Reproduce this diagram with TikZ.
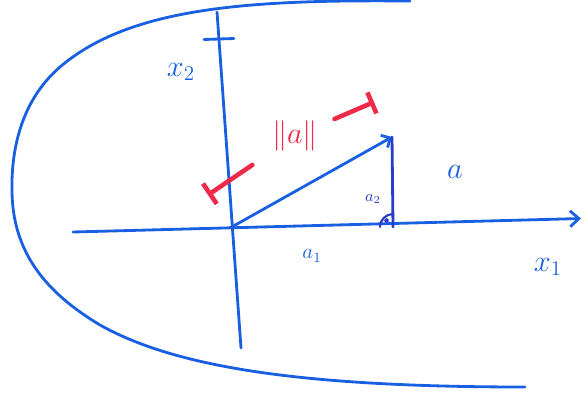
\documentclass[tikz,border=0pt]{standalone}
\usepackage{amsmath,amssymb}
\usepackage{xcolor}
\usetikzlibrary{arrows.meta}
\definecolor{penblue}{RGB}{25,95,225}
\definecolor{pendark}{RGB}{40,60,200}
\definecolor{penred}{RGB}{238,42,72}
\tikzset{
    pen/.style={penblue,line width=1.6pt,line cap=round},
    dimline/.style={penred,line width=2.6pt,line cap=round},
    lbl/.style={penblue,inner sep=1pt}
}
\begin{document}
\begin{tikzpicture}[line width=1.6pt]
\useasboundingbox (0,0) rectangle (11.7,7.84);
% coordinates
\coordinate (O) at (4.6,3.28);
\coordinate (xS) at (1.46,3.2);
\coordinate (xE) at (11.62,3.47);
\coordinate (yS) at (4.82,0.88);
\coordinate (yE) at (4.34,7.6);
\coordinate (yTL) at (4.08,7.05);
\coordinate (yTR) at (4.68,7.07);
\coordinate (Atip) at (7.84,5.1);
\coordinate (Afoot) at (7.86,3.3);
\coordinate (dimL) at (4.16,3.94);
\coordinate (dimR) at (7.48,5.8);
%
\draw[pen] (8.2,7.82) .. controls (5,7.85) and (2.6,7.7) .. (1.2,6.5)
    .. controls (0.4,5.81) and (0.22,4.8) .. (0.24,4)
    .. controls (0.26,2.8) and (0.9,2) .. (2,1.34)
    .. controls (3.5,0.5) and (6,0.1) .. (10.5,0.1);
%
\draw[pen,-{Straight Barb[length=5pt,width=9pt]}] (xS) -- (xE);
\draw[pen] (yS) -- (yE);
\draw[pen] (yTL) -- (yTR);
\node[lbl,font=\LARGE] (x1) at (10.96,2.5) {$x_1$};
\node[lbl,font=\LARGE] (x2) at (3.62,6.4) {$x_2$};
%
\draw[pen,-{Straight Barb[length=4pt,width=8pt]}] (O) -- (Atip);
\draw[pen,pendark] (Atip) -- (Afoot);
\draw[pen,pendark,line width=1.2pt] (Afoot) ++(-0.26,0) arc (180:90:0.26);
\fill[pendark] (7.73,3.43) circle (1.3pt);
\node[lbl,font=\LARGE] (a) at (9.1,4.4) {$a$};
\node[lbl,font=\large] (a1) at (6.24,2.72) {$a_1$};
\node[lbl,pendark,font=\small] (a2) at (7.46,3.86) {$a_2$};
%
\node[penred,font=\LARGE] (norm) at (5.9,5.12) {$\|a\|$};
\draw[dimline,{Bar[width=14pt]}-,shorten >=0.3cm] (dimL) -- (norm);
\draw[dimline,-{Bar[width=13pt]},shorten <=0.2cm] (norm) -- (dimR);
\end{tikzpicture}
\end{document}
